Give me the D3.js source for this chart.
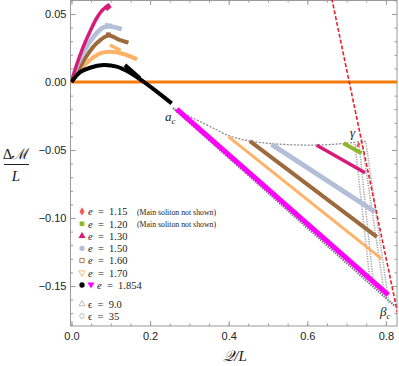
<html>
<head>
<script src="https://d3js.org/d3.v7.min.js"></script>
<style>
  body { margin: 0; background: #fff; }
  svg text { font-family: "Liberation Sans", Arial, sans-serif; }
  .tick text { font-size: 11px; fill: #222; }
  .tick line { stroke: #9a9a9a; }
  svg text.serif { font-family: "Liberation Serif", "DejaVu Serif", serif; fill: #222; }
</style>
</head>
<body>
<svg width="399" height="366"></svg>
<script>
// ticks
var xTicks = [0, 0.2, 0.4, 0.6, 0.8];
var yTicks = [-0.15, -0.10, -0.05, 0, 0.05];

// upper arcs (main + cusp branch)
var e130Arc = [[0,0],[0.013,0.0125],[0.030,0.026],[0.047,0.037],[0.064,0.0469],[0.081,0.0535],[0.098,0.0566]];
var e150Arc = [[0,0],[0.017,0.0137],[0.039,0.026],[0.060,0.0346],[0.081,0.0402],[0.102,0.0407],[0.128,0.0388]];
var e160Arc = [[0,0],[0.022,0.0113],[0.043,0.0211],[0.064,0.0285],[0.094,0.0342],[0.119,0.0314],[0.145,0.0289]];
var e170Arc = [[0,0],[0.022,0.009],[0.047,0.0162],[0.073,0.0211],[0.098,0.0223],[0.132,0.0206],[0.167,0.0167]];
var e1854Arc = [[0,0],[0.022,0.0072],[0.047,0.0105],[0.081,0.0125],[0.115,0.0113],[0.149,0.0068],[0.183,0.0002],[0.217,-0.0071],[0.255,-0.0157]];
var e130Tip = [[0.086,0.0538],[0.098,0.0566]];
var e150Cusp = [[0.085,0.0418],[0.104,0.0412]];
var e160Cusp = [[0.088,0.0352],[0.100,0.0350]];
var e170Cusp = [[0.098,0.0272],[0.125,0.0232]];
var e1854Cusp = [[0.136,0.0125],[0.174,0.0027]];

// lower branches
var e115Low = [[0.727,-0.0458],[0.733,-0.0468]];
var e120Low = [[0.692,-0.0451],[0.738,-0.0524]];
var e130Low = [[0.624,-0.0465],[0.747,-0.0667]];
var e150Low = [[0.509,-0.0458],[0.772,-0.0954]];
var e160Low = [[0.454,-0.0434],[0.777,-0.1138]];
var e170Low = [[0.399,-0.0402],[0.789,-0.1301]];
var e1854Low = [[0.268,-0.0199],[0.806,-0.1566]];

// gray boundaries
var acGamma = [[0.263,-0.0199],[0.301,-0.0254],[0.340,-0.0309],[0.370,-0.0353],[0.396,-0.0390],[0.424,-0.0415],[0.454,-0.0434],[0.505,-0.0452],[0.581,-0.0463],[0.657,-0.0460],[0.738,-0.0439],[0.752,-0.0437]];
var acBeta = [[0.258,-0.0191],[0.823,-0.1647]];
var eps9a = [[0.7214,-0.0456],[0.7595,-0.1463]];
var eps9b = [[0.7316,-0.0456],[0.7672,-0.1456]];
var eps35a = [[0.7392,-0.0449],[0.7977,-0.1588]];
var eps35b = [[0.7494,-0.0449],[0.8079,-0.1632]];
var redDash = [[0.656,0.07],[0.837,-0.18]];
var zeroLine = [[-0.01,0],[0.84,0]];

var legendLabels = ["1.15","1.20","1.30","1.50","1.60","1.70","1.854"];
var epsLabels = ["9.0", "35"];

var svg = d3.select("svg");
var x = d3.scaleLinear().domain([-0.0025, 0.8282]).range([70.5, 397]);
var y = d3.scaleLinear().domain([-0.1794, 0.0603]).range([326, 0]);
var serif = "Liberation Serif, DejaVu Serif, serif";

svg.append("clipPath").attr("id", "plot")
  .append("rect").attr("x", 70.5).attr("y", 0).attr("width", 326.5).attr("height", 326);

var line = d3.line().x(function (d) { return x(d[0]); }).y(function (d) { return y(d[1]); });
var curve = d3.line().curve(d3.curveCatmullRom).x(function (d) { return x(d[0]); }).y(function (d) { return y(d[1]); });

// axes: minor ticks then major
function drawAxes() {
  var xMinor = d3.range(0, 17).map(function (i) { return i * 0.05; });
  var yMinor = d3.range(-17, 7).map(function (i) { return i * 0.01; });
  var axes = [
    [d3.axisBottom(x), "translate(0,326)", xMinor, xTicks, d3.format(".1f"), 6],
    [d3.axisTop(x), "translate(0,0)", xMinor, xTicks, null, 4],
    [d3.axisLeft(y), "translate(70.5,0)", yMinor, yTicks, d3.format(".2f"), 4],
    [d3.axisRight(y), "translate(397,0)", yMinor, yTicks, null, 4]
  ];
  axes.forEach(function (a) {
    svg.append("g").attr("transform", a[1])
      .call(a[0].tickValues(a[2]).tickSize(-2.5).tickFormat(""))
      .call(function (g) { g.select(".domain").remove(); });
    var ax = a[0].tickValues(a[3]).tickSize(-5).tickPadding(a[5])
      .tickFormat(a[4] ? a[4] : "");
    svg.append("g").attr("transform", a[1]).call(ax)
      .call(function (g) { g.select(".domain").remove(); });
  });
  svg.append("rect").attr("x", 70.5).attr("y", 0.5).attr("width", 326.5).attr("height", 325.5)
    .attr("fill", "none").attr("stroke", "#9a9a9a").attr("stroke-width", 1);
}
drawAxes();

var plot = svg.append("g").attr("clip-path", "url(#plot)");

function path(data, gen, color, width, dash) {
  var p = plot.append("path").datum(data).attr("d", gen)
    .attr("fill", "none").attr("stroke", color).attr("stroke-width", width)
    .attr("stroke-linecap", "butt").attr("stroke-linejoin", "round");
  if (dash) p.attr("stroke-dasharray", dash);
  return p;
}

// zero line
path(zeroLine, line, "#f27c0c", 3);

// gray dotted structure
path(acGamma, curve, "#8a8a8a", 1.3, "2,1.5");
path(acBeta, line, "#7a7a7a", 2.2, "1.5,1");
[eps9a, eps9b, eps35a, eps35b].forEach(function (d) {
  path(d, line, "#aaaaaa", 1.6, "1.3,1.2");
});

// upper arcs
path(e170Arc, curve, "#fdb266", 4);
path(e170Cusp, line, "#fdb266", 3.5);
path(e160Arc, curve, "#9c6a3c", 4);
path(e160Cusp, line, "#9c6a3c", 4);
path(e150Arc, curve, "#b3bfd9", 4.5);
path(e150Cusp, line, "#b3bfd9", 4.5);
path(e130Arc, curve, "#d81b7b", 3.5);
path(e130Tip, line, "#d81b7b", 5.5);
path(e1854Arc, curve, "#000", 4);
path(e1854Cusp, line, "#000", 4);

// lower branches
path(e170Low, line, "#fdb266", 3);
path(e160Low, line, "#9c6a3c", 4);
path(e150Low, line, "#b3bfd9", 5);
path(e130Low, line, "#d81b7b", 3.5);
path(e1854Low, line, "#ff00ff", 5);
path(e120Low, line, "#8cb82b", 4);
path(e115Low, line, "#f25a5a", 4.5);

// red dashed
path(redDash, line, "#e8202a", 1.6, "4,2");

function stext(px, py, size) {
  return svg.append("text").attr("class", "serif").attr("font-family", serif)
    .attr("x", px).attr("y", py).attr("font-size", size);
}

// point labels
var ac = stext(165, 121, 13).attr("font-style", "italic");
ac.append("tspan").text("a");
ac.append("tspan").attr("font-size", 9).attr("dy", 3).text("c");
stext(352.5, 137, 13).attr("text-anchor", "middle").attr("font-style", "italic").text("γ");
var bc = stext(380, 316, 13).attr("font-style", "italic");
bc.append("tspan").text("β");
bc.append("tspan").attr("font-size", 9).attr("dy", 3).text("c");

// axis labels
stext(16, 159, 15).attr("text-anchor", "middle").text("Δℳ");
svg.append("line").attr("x1", 4).attr("x2", 29).attr("y1", 164.5).attr("y2", 164.5)
  .attr("stroke", "#222").attr("stroke-width", 1);
stext(16, 181, 15).attr("text-anchor", "middle").attr("font-style", "italic").text("L");
stext(235, 361, 15).attr("text-anchor", "middle").attr("font-style", "italic").text("𝒬/L");

// legend
var legendY = [211.5, 223.8, 236, 248.3, 260.5, 272.7, 285];
var legendSym = [
  [d3.symbolDiamond, "#f25a5a", true],
  [d3.symbolSquare, "#8cb82b", true],
  [d3.symbolTriangle, "#d81b7b", true],
  [d3.symbolCircle, "#b3bfd9", true],
  [d3.symbolSquare, "#9c6a3c", false],
  [d3.symbolTriangle, "#fdb266", false],
  [d3.symbolCircle, "#000", true]
];
legendLabels.forEach(function (lab, i) {
  var s = legendSym[i];
  svg.append("path").attr("d", d3.symbol().type(s[0]).size(s[2] ? 22 : 18)())
    .attr("transform", "translate(82," + legendY[i] + ")" + (i === 5 ? " rotate(180)" : ""))
    .attr("fill", s[2] ? s[1] : "#fff").attr("stroke", s[1]).attr("stroke-width", s[2] ? 0 : 0.9);
  var tx = 88;
  if (i === 6) {
    svg.append("path").attr("d", d3.symbol().type(d3.symbolTriangle).size(22)())
      .attr("transform", "translate(91," + (legendY[i] - 0.5) + ") rotate(180)")
      .attr("fill", "#ff00ff");
    tx = 97;
  }
  var t = stext(tx, legendY[i] + 3.8, 10.5);
  t.append("tspan").attr("font-style", "italic").text("e");
  t.append("tspan").text("\u2002=\u2002" + lab);
  if (i < 2) {
    stext(137, legendY[i] + 3, 7.8).text("(Main soliton not shown)");
  }
});
var epsY = [304, 316];
epsLabels.forEach(function (lab, i) {
  svg.append("path").attr("d", d3.symbol().type(i === 0 ? d3.symbolTriangle : d3.symbolCircle).size(16)())
    .attr("transform", "translate(82," + epsY[i] + ")")
    .attr("fill", "#fff").attr("stroke", "#aaa").attr("stroke-width", 0.8);
  stext(88, epsY[i] + 3.8, 10.5).text("ϵ\u2002=\u2002" + lab);
});
</script>
</body>
</html>
